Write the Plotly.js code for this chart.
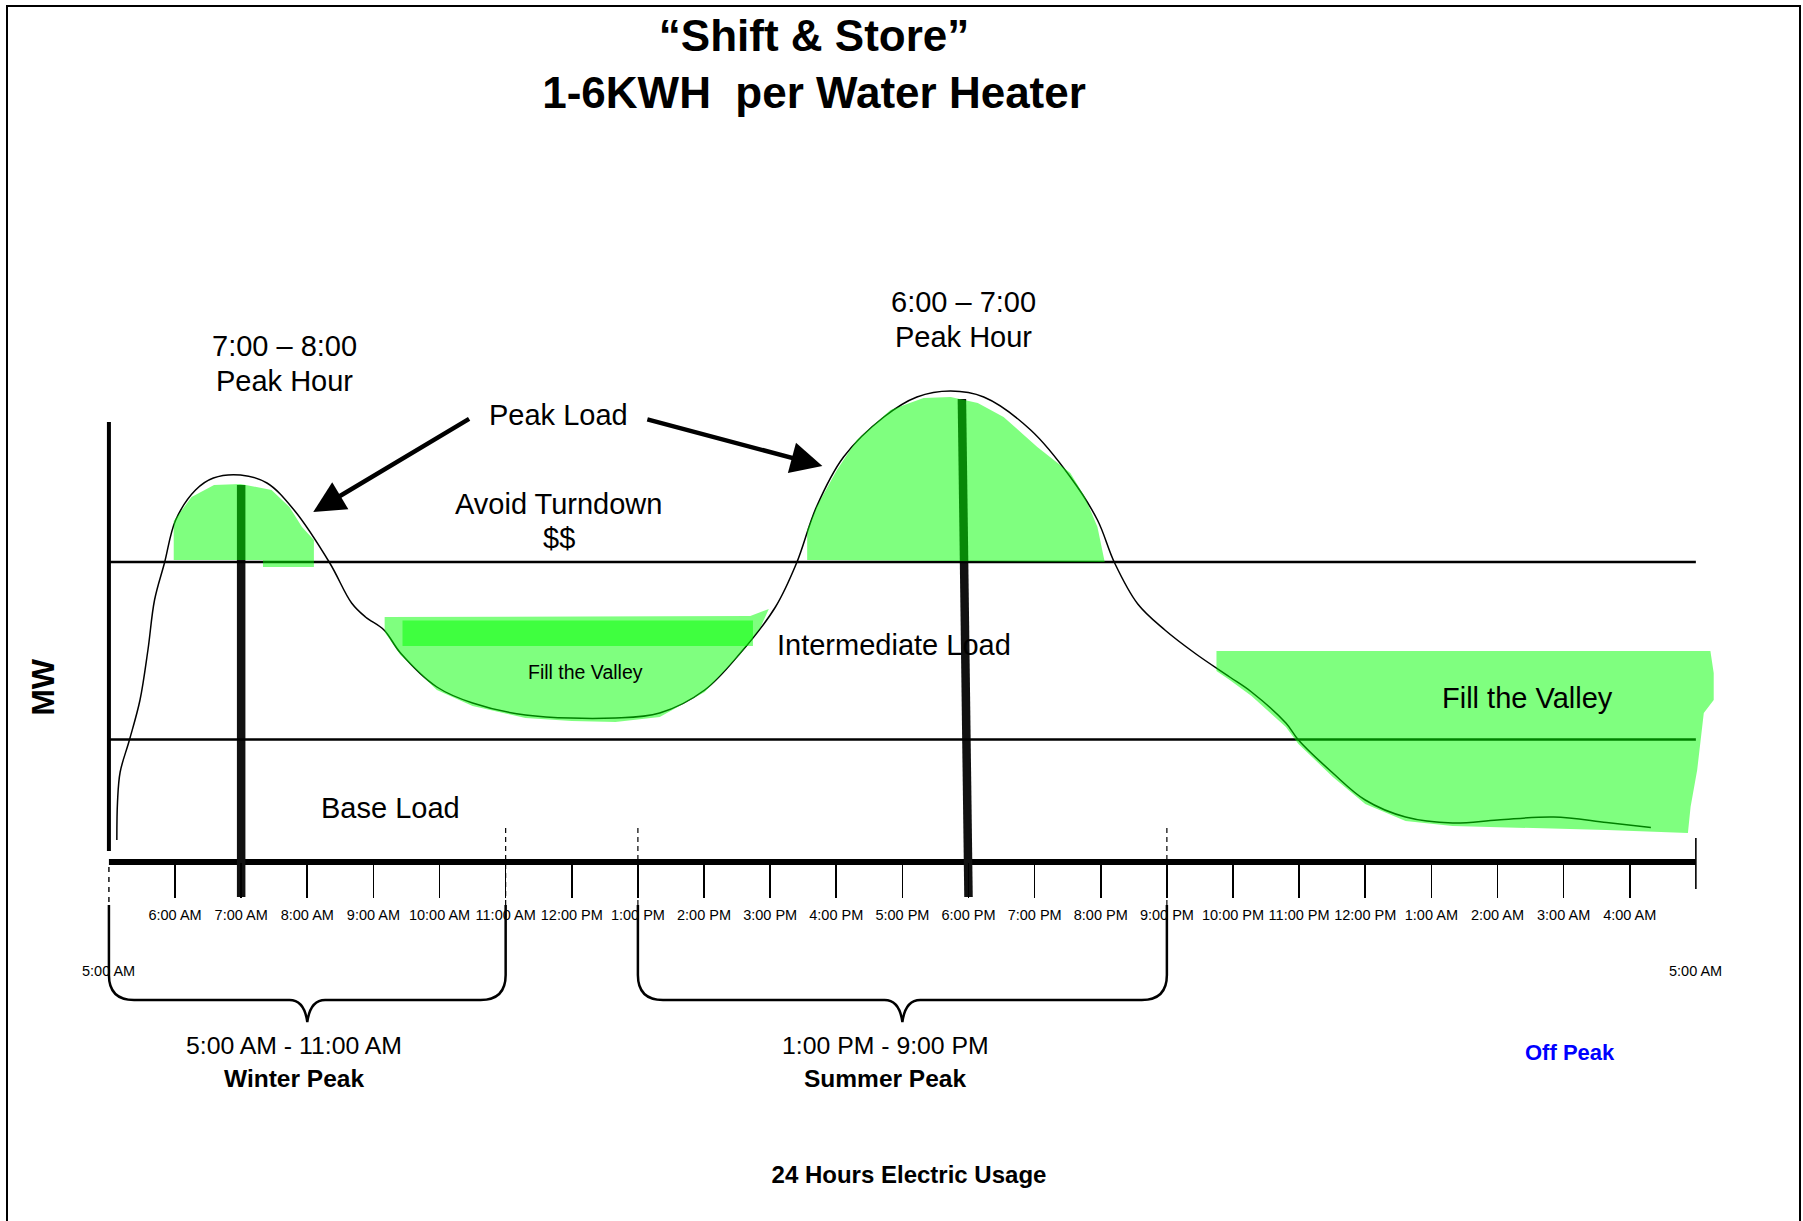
<!DOCTYPE html>
<html>
<head>
<meta charset="utf-8">
<script src="https://cdn.plot.ly/plotly-3.0.1.min.js"></script>
<style>html,body{margin:0;padding:0;background:#fff;}</style>
</head>
<body>
<div id="chart" style="width:1803px;height:1221px;"></div>
<script>
// ---------------- data ----------------
const tickHours = [1,2,3,4,5,6,7,8,9,10,11,12,13,14,15,16,17,18,19,20,21,22,23];
const tickLabels = ['6:00 AM','7:00 AM','8:00 AM','9:00 AM','10:00 AM','11:00 AM','12:00 PM',
  '1:00 PM','2:00 PM','3:00 PM','4:00 PM','5:00 PM','6:00 PM','7:00 PM','8:00 PM','9:00 PM',
  '10:00 PM','11:00 PM','12:00 PM','1:00 AM','2:00 AM','3:00 AM','4:00 AM'];
const endHours = [0, 24];
const endLabel = '5:00 AM';

// 24-hour load curve (hours after 5:00 AM, MW in arbitrary units)
const loadHours = [0.12,0.13,0.17,0.31,0.47,0.59,0.69,0.84,1.01,1.31,1.58,1.99,2.39,2.80,3.34,3.67,3.88,4.16,4.41,4.96,5.50,6.30,7.66,8.33,9.01,9.55,10.08,10.40,10.70,11.11,11.72,12.22,12.73,13.23,13.94,14.54,14.95,15.21,15.56,15.97,16.44,16.95,17.28,17.80,17.99,18.51,19.00,19.61,20.32,21.00,21.85,22.65,23.32];
const loadMW    = [4.4,12.0,18.0,24.4,32.4,42.4,52.4,59.8,68.4,74.4,76.8,77.4,75.8,70.4,59.8,51.8,49.0,46.4,41.8,35.0,31.8,29.4,28.8,29.8,34.4,41.8,51.0,59.8,71.0,81.0,89.0,93.0,94.2,93.0,86.4,77.0,68.4,59.8,51.6,46.4,41.6,37.0,34.0,27.8,24.4,17.8,12.4,9.0,7.8,8.4,9.0,7.9,6.9];

const intermediateLevelMW = 60;   // top of intermediate load
const baseLevelMW = 24.5;         // top of base load
const axisTopMW = 88;
const axisBottomMW = 2.2;

// peak hour markers
const peakHourHoursTop = [2.0, 12.9];
const peakHourHoursBottom = [2.0, 13.0];
const peakHourTopMW = [75.4, 92.6];

// green shaded areas
const winterPeakFillHours = [0.98,0.98,1.25,1.59,1.99,2.46,2.73,2.92,3.10,3.10,2.33,2.33];
const winterPeakFillMW    = [60.4,68.2,73.0,75.4,75.6,74.4,71.0,67.0,64.4,59.0,59.0,60.4];
const summerPeakFillHours = [10.56,10.56,10.70,11.01,11.31,11.82,12.32,12.73,13.14,13.53,14.04,14.54,14.76,14.95,15.06];
const summerPeakFillMW    = [60.4,66.4,71.0,78.4,84.4,90.4,92.8,93.0,91.8,89.0,83.0,77.8,73.0,67.0,60.0];
const dayValleyFillHours  = [4.17,4.17,4.41,4.96,5.50,6.30,7.00,7.66,8.33,9.01,9.55,9.85,9.98,9.70];
const dayValleyFillMW     = [49.0,46.0,41.4,34.4,31.2,28.8,28.2,28.0,29.0,34.0,41.6,46.8,50.6,49.2];
const dayValleyBandHours  = [4.44,9.74,9.74,4.44];
const dayValleyBandMW     = [48.3,48.3,43.2,43.2];
const nightValleyFillHours = [16.75,24.22,24.27,24.27,24.12,24.07,24.02,23.92,23.88,22.65,20.84,20.32,19.61,19.00,18.51,17.99,17.80,17.28,16.95,16.75];
const nightValleyFillMW    = [42.2,42.2,37.8,32.4,29.8,24.4,18.4,11.0,5.8,6.4,7.0,7.2,8.2,11.6,17.0,23.6,27.0,33.2,36.4,38.2];

// ---------------- layout helpers ----------------
const X_RANGE = [-0.15, 24.35];
const Y_RANGE = [0, 125];
const FONT = 'Liberation Sans, Arial, Helvetica, sans-serif';
const GREEN = 'rgba(0,255,0,0.5)';
const P = mw => (mw - Y_RANGE[0]) / (Y_RANGE[1] - Y_RANGE[0]);
const XP = h => (h - X_RANGE[0]) / (X_RANGE[1] - X_RANGE[0]);

const traces = [
  {x: loadHours, y: loadMW, type: 'scatter', mode: 'lines',
   line: {color: '#000', width: 1.5, shape: 'spline', smoothing: 1}, hoverinfo: 'skip'},
];
[[winterPeakFillHours, winterPeakFillMW],[summerPeakFillHours, summerPeakFillMW],
 [dayValleyFillHours, dayValleyFillMW],[dayValleyBandHours, dayValleyBandMW],
 [nightValleyFillHours, nightValleyFillMW]].forEach(([xs, ys]) => {
  traces.push({x: xs, y: ys, type: 'scatter', mode: 'lines', fill: 'toself',
    fillcolor: GREEN, line: {width: 0, color: 'rgba(0,0,0,0)'}, hoverinfo: 'skip'});
});

const shapes = [];
// page border
shapes.push({type: 'rect', xref: 'paper', yref: 'paper',
  x0: (7-99)/1620, x1: (1800-99)/1620, y0: -0.6, y1: (862-6)/625,
  line: {color: '#000', width: 2}, fillcolor: 'rgba(0,0,0,0)'});
// load level lines
[intermediateLevelMW, baseLevelMW].forEach(v => shapes.push({type: 'line', xref: 'x', yref: 'y',
  x0: 0, x1: 24, y0: v, y1: v, layer: 'below', line: {color: '#000', width: 2.4}}));
// y axis line
shapes.push({type: 'line', xref: 'x', yref: 'y', x0: 0, x1: 0, y0: axisBottomMW, y1: axisTopMW,
  layer: 'below', line: {color: '#000', width: 4}});
// x axis line
shapes.push({type: 'line', xref: 'x', yref: 'paper', x0: 0, x1: 24, y0: 0, y1: 0,
  layer: 'below', line: {color: '#000', width: 6}});
// last tick (24) extends above axis
shapes.push({type: 'line', xref: 'x', yref: 'paper', x0: 24, x1: 24, y0: P(4.8), y1: P(-5.4),
  layer: 'below', line: {color: '#000', width: 1.6}});
// dashed first tick
shapes.push({type: 'line', xref: 'x', yref: 'paper', x0: 0, x1: 0, y0: P(-1), y1: P(-8.6),
  layer: 'below', line: {color: '#000', width: 1.4, dash: '5px,5px'}});
// dashed period separators
[6, 8, 16].forEach(h => shapes.push({type: 'line', xref: 'x', yref: 'paper', x0: h, x1: h,
  y0: P(6.8), y1: P(-8.6), layer: 'below', line: {color: '#000', width: 1.2, dash: '5px,4px'}}));
// peak hour lines
for (let i = 0; i < peakHourTopMW.length; i++) {
  shapes.push({type: 'line', xref: 'x', yref: 'paper', x0: peakHourHoursTop[i], x1: peakHourHoursBottom[i],
    y0: P(peakHourTopMW[i]), y1: P(-7), layer: 'below', line: {color: '#111', width: 8.5}});
}
// braces
function bracePath(h0, h1) {
  const yTop = -8.6, yBar = -27.6, yTip = -32, r = 0.38, tipHalf = 0.27, c = 0.045;
  const m = (h0 + h1) / 2;
  return `M ${h0},${P(yTop)} L ${h0},${P(yBar+5)} Q ${h0},${P(yBar)} ${h0+r},${P(yBar)} ` +
    `L ${m-tipHalf},${P(yBar)} Q ${m-c},${P(yBar)} ${m},${P(yTip)} Q ${m+c},${P(yBar)} ${m+tipHalf},${P(yBar)} ` +
    `L ${h1-r},${P(yBar)} Q ${h1},${P(yBar)} ${h1},${P(yBar+5)} L ${h1},${P(yTop)}`;
}
[[0, 6], [8, 16]].forEach(([a, b]) => shapes.push({type: 'path', xref: 'x', yref: 'paper',
  path: bracePath(a, b), layer: 'below', line: {color: '#000', width: 2.5}}));

// ---------------- annotations ----------------
function txt(x, y, text, size, extra) {
  return Object.assign({x: x, y: y, xref: 'x', yref: 'y', text: text, showarrow: false,
    xanchor: 'center', yanchor: 'middle', font: {family: FONT, size: size, color: '#000'}}, extra || {});
}
// annotations below the axis (outside the MW range) use paper y
function low(x, mw, text, size, extra) {
  return txt(x, P(mw), text, size, Object.assign({yref: 'paper'}, extra || {}));
}
const annotations = [
  txt(2.66, 103.2, '7:00 – 8:00', 29),
  txt(2.66, 96.2, 'Peak Hour', 29),
  txt(12.93, 112.0, '6:00 – 7:00', 29),
  txt(12.93, 105.0, 'Peak Hour', 29),
  txt(6.80, 89.4, 'Peak Load', 29),
  txt(6.80, 71.6, 'Avoid Turndown', 29),
  txt(6.80, 64.8, '$$', 29),
  txt(10.08, 43.4, 'Intermediate Load', 29, {xanchor: 'left'}),
  txt(4.26, 10.8, 'Base Load', 29),
  txt(7.20, 38.0, 'Fill the Valley', 19.5),
  txt(21.46, 32.8, 'Fill the Valley', 29),
  low(endHours[0], -21.8, endLabel, 14.5),
  low(endHours[1], -21.8, endLabel, 14.5),
  low(2.80, -36.6, '5:00 AM - 11:00 AM', 24.8),
  low(2.80, -43.2, '<b>Winter Peak</b>', 24.5),
  low(11.74, -36.6, '1:00 PM - 9:00 PM', 24.8),
  low(11.74, -43.2, '<b>Summer Peak</b>', 24.5),
  low(22.10, -38.0, '<b>Off Peak</b>', 22, {font: {family: FONT, size: 22, color: '#0000ff'}}),
  {x: XP(-1.0), y: P(35.0), xref: 'paper', yref: 'paper', text: '<b>MW</b>', showarrow: false,
   textangle: -90, xanchor: 'center', yanchor: 'middle', font: {family: FONT, size: 32, color: '#000'}},
  // arrows
  {x: 3.09, y: 70.0, ax: 5.47, ay: 88.8, xref: 'x', yref: 'y', axref: 'x', ayref: 'y', text: '',
   showarrow: true, arrowhead: 2, arrowsize: 1.4, arrowwidth: 4.5, arrowcolor: '#000', standoff: 0},
  {x: 10.79, y: 79.2, ax: 8.12, ay: 88.6, xref: 'x', yref: 'y', axref: 'x', ayref: 'y', text: '',
   showarrow: true, arrowhead: 2, arrowsize: 1.4, arrowwidth: 4.5, arrowcolor: '#000', standoff: 0}
];

const layout = {
  width: 1803, height: 1221,
  margin: {l: 99, r: 84, t: 237, b: 359},
  paper_bgcolor: '#fff', plot_bgcolor: 'rgba(0,0,0,0)',
  showlegend: false,
  font: {family: FONT, color: '#000'},
  title: {text: '<b>“Shift & Store”</b><br><b>1-6KWH  per Water Heater</b>',
    x: 0.4515, xref: 'container', xanchor: 'center',
    y: 1 - 51/1221, yref: 'container', yanchor: 'top',
    font: {family: FONT, size: 44, color: '#000'}},
  xaxis: {range: X_RANGE, showgrid: false, zeroline: false, showline: false,
    tickmode: 'array', tickvals: tickHours, ticktext: tickLabels,
    ticks: 'outside', ticklen: 35, tickwidth: 1.6, tickcolor: '#000',
    ticklabelstandoff: 5, tickangle: 0,
    tickfont: {family: FONT, size: 14.5, color: '#000'},
    title: {text: '<b>24 Hours Electric Usage</b>', standoff: 243,
      font: {family: FONT, size: 24, color: '#000'}},
    fixedrange: true},
  yaxis: {range: Y_RANGE, showgrid: false, zeroline: false, showline: false,
    showticklabels: false, ticks: '', fixedrange: true},
  shapes: shapes,
  annotations: annotations
};

Plotly.newPlot('chart', traces, layout, {staticPlot: true, displayModeBar: false});
</script>
</body>
</html>
